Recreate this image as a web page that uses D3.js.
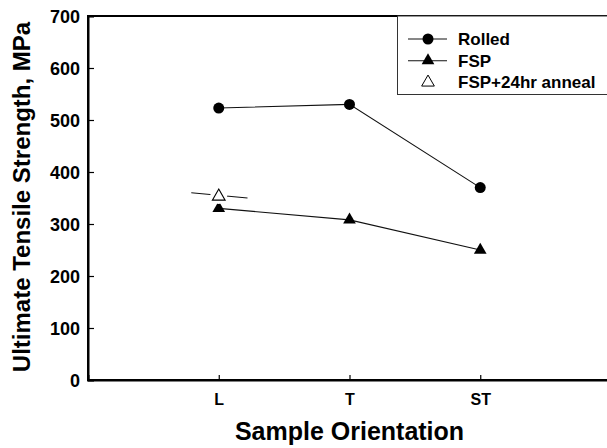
<!DOCTYPE html>
<html>
<head>
<meta charset="utf-8">
<script src="https://cdn.jsdelivr.net/npm/d3@7"></script>
<style>
  body { margin: 0; background: #fff; }
  svg { font-family: "Liberation Sans", Arial, sans-serif; font-weight: bold; }
</style>
</head>
<body>
<div id="chart"></div>
<script>
// data
const orientations = ["L", "T", "ST"];
const rolled = [523, 530, 370];
const fsp = [330, 308, 250];
const annealOrientation = "L";
const anneal = 353;
// short trend stroke drawn through the anneal point
const annealTrendX = [0.79, 1.22];
const annealTrendY = [360, 350];
const yTicks = [0, 100, 200, 300, 400, 500, 600, 700];

const width = 607, height = 448;
const margin = { top: 16, right: -4, bottom: 68, left: 88 };

const svg = d3.select("#chart").append("svg")
  .attr("width", width)
  .attr("height", height);

// categories sit at 1..3, axis runs 0..4
const x = d3.scaleLinear()
  .domain([0, 4])
  .range([margin.left, width - margin.right]);
const y = d3.scaleLinear()
  .domain([0, 700])
  .range([height - margin.bottom, margin.top]);

const xPos = c => x(orientations.indexOf(c) + 1);

// frame
svg.append("rect")
  .attr("x", x(0)).attr("y", y(700))
  .attr("width", x(4) - x(0)).attr("height", y(0) - y(700))
  .attr("fill", "none").attr("stroke", "#000").attr("stroke-width", 2);

// axes with inside ticks
const yAxis = svg.append("g")
  .attr("transform", `translate(${x(0)},0)`)
  .call(d3.axisRight(y).tickValues(yTicks).tickSize(6).tickFormat(d3.format("d")));
yAxis.select(".domain").attr("stroke-width", 2);
yAxis.selectAll(".tick line").attr("stroke-width", 1.2);
yAxis.selectAll(".tick text")
  .attr("x", -8)
  .attr("dy", "0.36em")
  .attr("text-anchor", "end")
  .attr("font-size", 18)
  .attr("font-family", null).attr("fill", "#000");

const xAxis = svg.append("g")
  .attr("transform", `translate(0,${y(0)})`)
  .call(d3.axisTop(x).tickValues([1, 2, 3]).tickSize(5)
    .tickFormat(d => orientations[d - 1]));
xAxis.select(".domain").attr("stroke-width", 2);
xAxis.selectAll(".tick line").attr("stroke-width", 1.2);
xAxis.selectAll(".tick text")
  .attr("y", 25)
  .attr("font-size", 16)
  .attr("font-family", null).attr("fill", "#000");

// axis titles
svg.append("text")
  .attr("x", xPos("T")).attr("y", 440)
  .attr("text-anchor", "middle")
  .attr("font-size", 25)
  .text("Sample Orientation");
svg.append("text")
  .attr("transform", "translate(29.5,197) rotate(-90)")
  .attr("text-anchor", "middle")
  .attr("font-size", 24)
  .text("Ultimate Tensile Strength, MPa");

const line = d3.line().x(d => xPos(d[0])).y(d => y(d[1]));

// Rolled
svg.append("path")
  .datum(orientations.map((c, i) => [c, rolled[i]]))
  .attr("d", line).attr("fill", "none").attr("stroke", "#111").attr("stroke-width", 1.1);
svg.selectAll(".rolled").data(rolled).enter().append("circle")
  .attr("cx", (d, i) => x(i + 1)).attr("cy", d => y(d))
  .attr("r", 5.5).attr("fill", "#000");

// FSP
svg.append("path")
  .datum(orientations.map((c, i) => [c, fsp[i]]))
  .attr("d", line).attr("fill", "none").attr("stroke", "#111").attr("stroke-width", 1.1);
const tri = d3.symbol().type(d3.symbolTriangle).size(70);
svg.selectAll(".fsp").data(fsp).enter().append("path")
  .attr("d", tri)
  .attr("transform", (d, i) => `translate(${x(i + 1)},${y(d)})`)
  .attr("fill", "#000");

// FSP + 24hr anneal
svg.append("line")
  .attr("x1", x(annealTrendX[0])).attr("y1", y(annealTrendY[0]))
  .attr("x2", x(annealTrendX[1])).attr("y2", y(annealTrendY[1]))
  .attr("stroke", "#111").attr("stroke-width", 1.1);
svg.append("circle")
  .attr("cx", xPos(annealOrientation)).attr("cy", y(anneal) - 1)
  .attr("r", 8.5).attr("fill", "#fff");
svg.append("path")
  .attr("d", tri)
  .attr("transform", `translate(${xPos(annealOrientation)},${y(anneal)})`)
  .attr("fill", "#fff").attr("stroke", "#000").attr("stroke-width", 1.1);

// legend
const legendItems = [
  { label: "Rolled", marker: "circle", line: true },
  { label: "FSP", marker: "tri", line: true },
  { label: "FSP+24hr anneal", marker: "open", line: false }
];
const lg = svg.append("g");
lg.append("rect")
  .attr("x", 397.5).attr("y", 16).attr("width", 230).attr("height", 78.5)
  .attr("fill", "#fff").attr("stroke", "#333").attr("stroke-width", 1);
legendItems.forEach((it, i) => {
  const cy = 39 + i * 21.7;
  if (it.line) {
    lg.append("line").attr("x1", 408).attr("x2", 447).attr("y1", cy).attr("y2", cy)
      .attr("stroke", "#111").attr("stroke-width", 1.1);
  }
  if (it.marker === "circle") {
    lg.append("circle").attr("cx", 428).attr("cy", cy).attr("r", 5.5).attr("fill", "#000");
  } else {
    lg.append("path").attr("d", tri)
      .attr("transform", `translate(428,${cy})`)
      .attr("fill", it.marker === "tri" ? "#000" : "#fff")
      .attr("stroke", it.marker === "tri" ? "none" : "#000").attr("stroke-width", 1);
  }
  lg.append("text").attr("x", 458).attr("y", cy + 6)
    .attr("font-size", 17).text(it.label);
});
</script>
</body>
</html>
